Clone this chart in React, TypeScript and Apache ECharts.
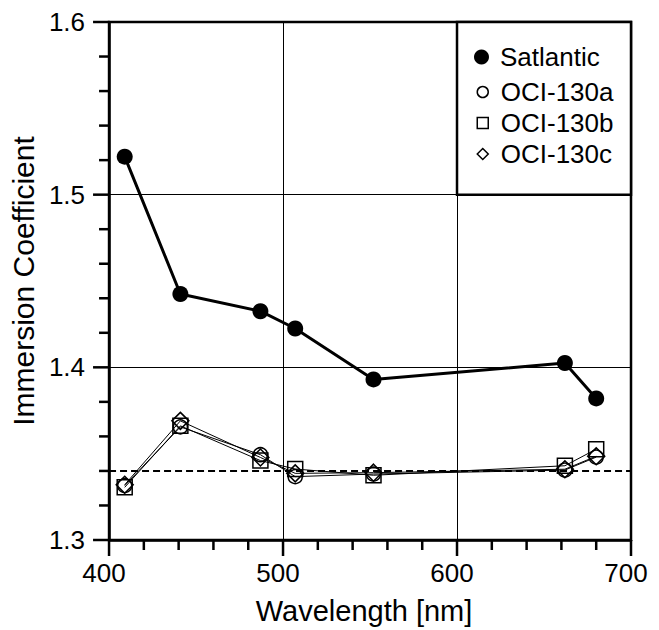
import React, { useEffect, useRef } from "react";
import * as echarts from "echarts";

const wavelengths = [409, 441, 487, 507, 552, 662, 680];
const satlantic = [1.522, 1.4425, 1.4325, 1.4225, 1.393, 1.4025, 1.382];
const oci130a = [1.3315, 1.3655, 1.3494, 1.3367, 1.3382, 1.3405, 1.348];
const oci130b = [1.3305, 1.3661, 1.346, 1.3411, 1.3375, 1.343, 1.3526];
const oci130c = [1.332, 1.369, 1.3478, 1.3386, 1.339, 1.341, 1.3485];
const referenceLevel = 1.343;
const legendCorner = [600, 1.6];
const legendOpposite = [700, 1.5];

const X_MIN = 400;
const X_MAX = 700;
const Y_MIN = 1.3;
const Y_MAX = 1.6;
const xMajorTicks = [400, 500, 600, 700];
const xMinorTicks = [420, 440, 460, 480, 520, 540, 560, 580, 620, 640, 660, 680];
const yMajorTicks = [1.3, 1.4, 1.5, 1.6];
const yMinorTicks = [1.32, 1.34, 1.36, 1.38, 1.42, 1.44, 1.46, 1.48, 1.52, 1.54, 1.56, 1.58];

const FONT = "'Liberation Sans', Arial, Helvetica, sans-serif";
const MAJOR_LEN = 16;
const MINOR_LEN = 10;

export default function App() {
  const ref = useRef<HTMLDivElement>(null);
  useEffect(() => {
    const chart = echarts.init(ref.current!, null, { renderer: "svg" });
    const pair = (ys: number[]) => wavelengths.map((x, i) => [x, ys[i]]);
    const hollow = { color: "transparent", borderColor: "#000", borderWidth: 1.5 };
    chart.setOption({
      animation: false,
      grid: { left: 108, right: 28, top: 22, bottom: 87, show: true, borderColor: "#000", borderWidth: 2.5 },
      xAxis: {
        type: "value",
        min: X_MIN,
        max: X_MAX,
        interval: 100,
        name: "Wavelength [nm]",
        nameLocation: "middle",
        nameGap: 56,
        nameTextStyle: { fontSize: 29, color: "#000", fontFamily: FONT, padding: [0, 12, 0, 0] },
        axisLabel: { fontSize: 26, color: "#000", fontFamily: FONT, margin: 20, padding: [0, 10, 0, 0] },
        axisLine: { show: true, lineStyle: { color: "#000", width: 2.5 } },
        axisTick: { show: false },
        minorTick: { show: false },
        splitLine: { show: true, lineStyle: { color: "#000", width: 1 } },
      },
      yAxis: {
        type: "value",
        min: Y_MIN,
        max: Y_MAX,
        interval: 0.1,
        name: "Immersion Coefficient",
        nameLocation: "middle",
        nameGap: 62,
        nameTextStyle: { fontSize: 30, color: "#000", fontFamily: FONT },
        axisLabel: {
          fontSize: 26,
          color: "#000",
          fontFamily: FONT,
          margin: 24,
          formatter: (v: number) => v.toFixed(1),
        },
        axisLine: { show: true, lineStyle: { color: "#000", width: 2.5 } },
        axisTick: { show: false },
        minorTick: { show: false },
        splitLine: { show: true, lineStyle: { color: "#000", width: 1 } },
      },
      legend: [
        {
          orient: "vertical",
          left: 474,
          top: 44,
          padding: 0,
          itemWidth: 15,
          itemHeight: 15,
          textStyle: { fontSize: 26, fontFamily: FONT, color: "#000", lineHeight: 26, padding: [0, 0, 0, 6] },
          data: [{ name: "Satlantic", icon: "circle", itemStyle: { color: "#000", borderWidth: 0 } }],
          z: 5,
        },
        {
          orient: "vertical",
          left: 476.5,
          top: 79,
          padding: 0,
          itemWidth: 11,
          itemHeight: 11,
          itemGap: 5,
          textStyle: { fontSize: 26, fontFamily: FONT, color: "#000", lineHeight: 26, padding: [0, 0, 0, 7.5] },
          data: [
            { name: "OCI-130a", icon: "circle", itemStyle: hollow },
            { name: "OCI-130b", icon: "rect", itemStyle: hollow },
            { name: "OCI-130c", icon: "diamond", itemStyle: hollow },
          ],
          z: 5,
        },
      ],
      series: [
        {
          name: "OCI-130a",
          type: "line",
          data: pair(oci130a),
          symbol: "circle",
          symbolSize: 14,
          itemStyle: hollow,
          lineStyle: { color: "#000", width: 1 },
          z: 3,
          markLine: {
            silent: true,
            symbol: ["none", "none"],
            label: { show: false },
            lineStyle: { color: "#000", width: 2, type: [7, 4] },
            data: [{ yAxis: referenceLevel }],
          },
        },
        {
          name: "OCI-130b",
          type: "line",
          data: pair(oci130b),
          symbol: "rect",
          symbolSize: 15,
          itemStyle: hollow,
          lineStyle: { color: "#000", width: 1 },
          z: 3,
        },
        {
          name: "OCI-130c",
          type: "line",
          data: pair(oci130c),
          symbol: "diamond",
          symbolSize: 17,
          itemStyle: hollow,
          lineStyle: { color: "#000", width: 1 },
          z: 3,
        },
        {
          name: "Satlantic",
          type: "line",
          data: pair(satlantic),
          symbol: "circle",
          symbolSize: 16,
          itemStyle: { color: "#000" },
          lineStyle: { color: "#000", width: 3 },
          z: 4,
          markArea: {
            silent: true,
            label: { show: false },
            itemStyle: { color: "#fff", borderColor: "#000", borderWidth: 2.5, opacity: 1 },
            data: [[{ coord: legendCorner }, { coord: legendOpposite }]],
          },
        },
      ],
    });

    // outward axis ticks, placed through the chart's own scales
    const px = (v: number[]) => chart.convertToPixel({ gridIndex: 0 }, v) as number[];
    const tickStyle = { stroke: "#000", lineWidth: 2.5 };
    const xTick = (v: number, len: number) => {
      const p = px([v, Y_MIN]);
      return { type: "line", silent: true, z: 10, shape: { x1: p[0], y1: p[1], x2: p[0], y2: p[1] + len }, style: tickStyle };
    };
    const yTick = (v: number, len: number) => {
      const p = px([X_MIN, v]);
      return { type: "line", silent: true, z: 10, shape: { x1: p[0] - len, y1: p[1], x2: p[0], y2: p[1] }, style: tickStyle };
    };
    chart.setOption({
      graphic: [
        ...xMajorTicks.map((v) => xTick(v, MAJOR_LEN)),
        ...xMinorTicks.map((v) => xTick(v, MINOR_LEN)),
        ...yMajorTicks.map((v) => yTick(v, MAJOR_LEN)),
        ...yMinorTicks.map((v) => yTick(v, MINOR_LEN)),
      ],
    });
    return () => chart.dispose();
  }, []);
  return (
    <div
      ref={ref}
      style={{ position: "absolute", left: 0, top: 0, width: 659, height: 630, background: "#fff" }}
    />
  );
}
